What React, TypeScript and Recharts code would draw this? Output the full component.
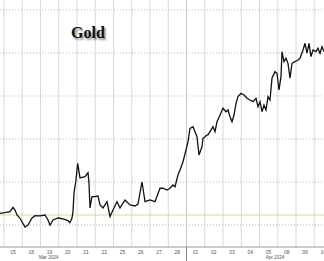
import React from 'react';
import { LineChart, Line, XAxis, YAxis, ReferenceLine } from 'recharts';

const dayLabels = ['15', '18', '19', '20', '21', '22', '25', '26', '27', '28', '01', '02', '03', '04', '05', '08', '09', '10'];
const monthLabels = [
  { t: 2.45, label: 'Mar 2024' },
  { t: 14.85, label: 'Apr 2024' },
];
const monthBoundary = 10;
const priceGrid = [2150, 2200, 2250, 2300, 2350, 2400];
const referencePrice = 2161.6;

const times = [
  -0.219, 0.055, 0.329, 0.493, 0.603, 0.712, 0.877, 1.151, 1.315, 1.534, 1.699, 1.973, 2.247, 2.411, 2.521, 2.685,
  2.959, 3.233, 3.507, 3.616, 3.726, 3.781, 3.836, 3.945, 4.038, 4.164, 4.438, 4.603, 4.658, 4.712, 4.822, 4.986,
  5.151, 5.26, 5.425, 5.644, 5.808, 5.973, 6.192, 6.356, 6.63, 6.904, 7.178, 7.342, 7.562, 7.726, 8.0, 8.274,
  8.548, 8.712, 8.932, 9.096, 9.26, 9.37, 9.534, 9.644, 9.808, 9.973, 10.082, 10.192, 10.356, 10.466, 10.575,
  10.685, 10.849, 10.904, 11.014, 11.123, 11.178, 11.288, 11.452, 11.562, 11.671, 11.836, 12.0, 12.164, 12.274,
  12.384, 12.493, 12.603, 12.712, 12.822, 12.986, 13.151, 13.315, 13.479, 13.644, 13.808, 13.918, 14.027, 14.137,
  14.247, 14.356, 14.466, 14.575, 14.685, 14.849, 14.959, 15.068, 15.178, 15.233, 15.342, 15.452, 15.562, 15.671,
  15.781, 15.945, 16.11, 16.219, 16.384, 16.493, 16.603, 16.712, 16.822, 16.932, 17.096, 17.205, 17.315, 17.425,
  17.534,
];

const prices = [
  2163.6, 2164.3, 2165.5, 2170.6, 2167.4, 2161.6, 2157.8, 2147.7, 2150.0, 2158.1, 2160.8, 2160.5, 2161.6, 2155.8, 2150.0, 2155.8,
  2158.1, 2157.0, 2155.0, 2152.7, 2158.1, 2165.5, 2187.2, 2202.3, 2221.7, 2204.7, 2206.2, 2210.8, 2198.8, 2169.8, 2182.9, 2182.9,
  2183.7, 2173.3, 2169.8, 2177.1, 2159.7, 2167.4, 2177.1, 2169.8, 2179.1, 2173.3, 2172.1, 2174.4, 2200.0, 2177.1, 2179.1, 2177.1,
  2192.7, 2192.7, 2190.7, 2192.7, 2196.5, 2194.5, 2208.1, 2214.0, 2223.6, 2237.2, 2246.9, 2262.4, 2264.3, 2258.5, 2252.7,
  2231.4, 2241.0, 2250.8, 2252.7, 2254.7, 2254.7, 2258.5, 2264.3, 2258.5, 2270.1, 2277.9, 2285.7, 2281.7, 2283.7,
  2275.9, 2270.1, 2277.9, 2291.5, 2299.2, 2303.1, 2301.2, 2297.3, 2295.3, 2293.4, 2297.3, 2287.6, 2293.4, 2281.7,
  2289.5, 2283.7, 2299.2, 2295.3, 2320.6, 2328.3, 2326.4, 2307.0, 2322.4, 2351.5, 2339.9, 2343.8, 2338.0, 2320.6,
  2338.0, 2339.9, 2341.9, 2343.8, 2353.5, 2361.3, 2349.7, 2361.3, 2345.7, 2353.5, 2351.5, 2355.5, 2349.7, 2357.4,
  2351.5,
];

const data = times.map((t, i) => ({ t, p: prices[i] }));

const dayCenters = dayLabels.map((_, i) => i + 0.5);
const dayBoundaries = dayLabels.map((_, i) => i);
const allTicks = [...dayCenters, ...monthLabels.map((m) => m.t), monthBoundary];

const AxisTick = (props: any) => {
  const { x, y, payload } = props;
  const v = payload.value;
  const dayIdx = dayCenters.indexOf(v);
  if (dayIdx >= 0) {
    return (
      <text x={x} y={y + 7.3} textAnchor="middle" fontSize={5} fill="#555" fontFamily="'Liberation Sans', Arial, sans-serif">
        {dayLabels[dayIdx]}
      </text>
    );
  }
  const m = monthLabels.find((mm) => mm.t === v);
  if (m) {
    return (
      <text x={x} y={y + 12} textAnchor="middle" fontSize={4.6} fill="#555" fontFamily="'Liberation Sans', Arial, sans-serif">
        {m.label}
      </text>
    );
  }
  if (v === monthBoundary) {
    return <line x1={x} x2={x} y1={y} y2={y + 14} stroke="#888" strokeWidth={1} />;
  }
  return null;
};

export default function App() {
  return (
    <div style={{ position: 'absolute', left: 0, top: 0, width: 324, height: 261, background: '#fff' }}>
      <LineChart width={324} height={261} data={data} margin={{ top: 0, right: 0, left: 0, bottom: 0 }}>
        <XAxis
          dataKey="t"
          type="number"
          domain={[-0.219, 17.534]}
          ticks={allTicks}
          interval={0}
          tickLine={false}
          tickSize={0}
          tickMargin={0}
          height={14}
          axisLine={{ stroke: '#999' }}
          tick={<AxisTick />}
          allowDataOverflow
        />
        <YAxis hide type="number" domain={[2124.4, 2411.6]} width={0} allowDataOverflow />
        {dayBoundaries.map((b) => (
          <ReferenceLine
            key={'v' + b}
            x={b}
            stroke={b === monthBoundary ? '#c8c8c8' : '#d8d8d8'}
            strokeWidth={1}
          />
        ))}
        {priceGrid.map((g) => (
          <ReferenceLine key={'h' + g} y={g} stroke="#b5b5b5" strokeDasharray="1 2" strokeWidth={1} />
        ))}
        <ReferenceLine y={referencePrice} stroke="#e3cfa6" strokeWidth={1} />
        <Line
          type="linear"
          dataKey="p"
          stroke="#111"
          strokeWidth={1.3}
          dot={false}
          activeDot={false}
          isAnimationActive={false}
        />
      </LineChart>
      <div
        style={{
          position: 'absolute',
          left: 71,
          top: 24.6,
          fontFamily: "'Liberation Serif', 'Times New Roman', serif",
          fontWeight: 'bold',
          fontSize: 16,
          lineHeight: '16px',
          color: '#111',
          textShadow: '1.5px 1.5px 2px rgba(0,0,0,0.45)',
        }}
      >
        Gold
      </div>
    </div>
  );
}
